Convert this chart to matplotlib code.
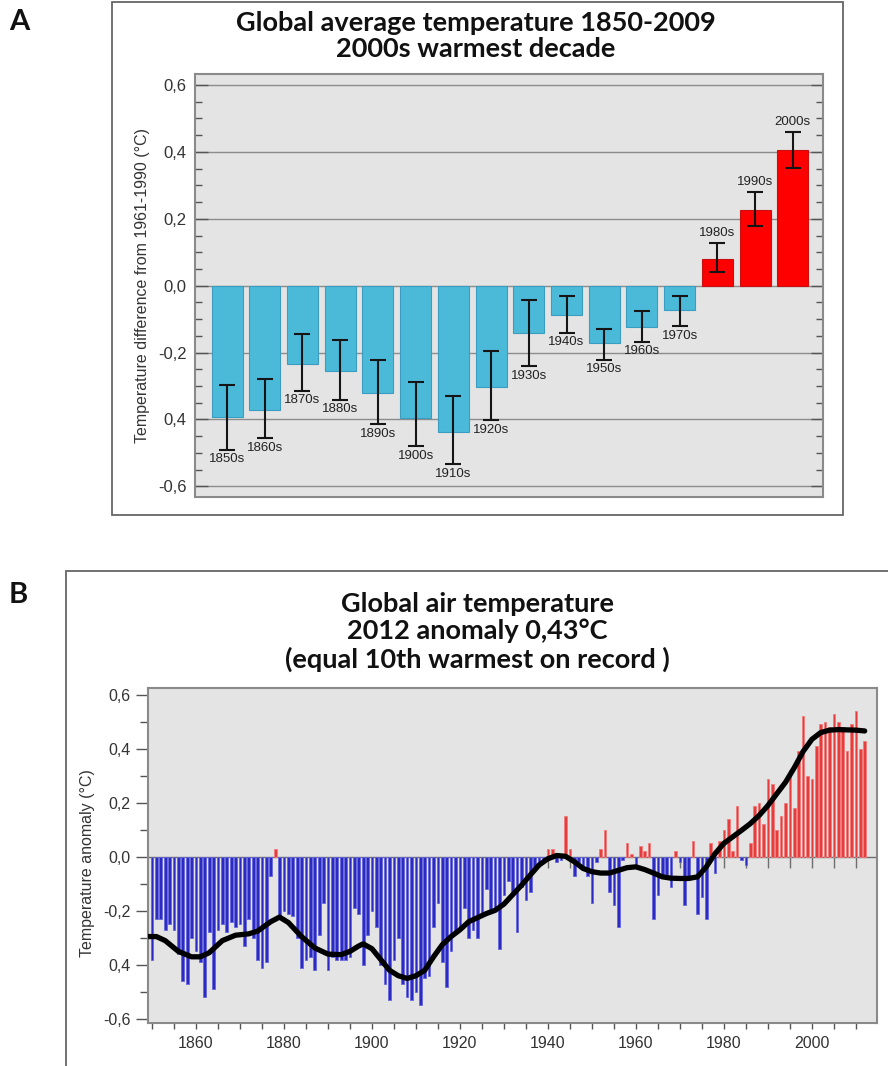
import matplotlib.pyplot as plt
import numpy as np
from matplotlib.patches import Rectangle
from matplotlib.ticker import MultipleLocator

plt.rcParams['font.family'] = ['Liberation Sans', 'DejaVu Sans']

# ---- panel A: decadal means with uncertainty range ----
decades = ["1850s", "1860s", "1870s", "1880s", "1890s", "1900s", "1910s", "1920s",
           "1930s", "1940s", "1950s", "1960s", "1970s", "1980s", "1990s", "2000s"]
decade_means = [-0.392, -0.372, -0.233, -0.254, -0.322, -0.395, -0.437, -0.302,
                -0.143, -0.087, -0.171, -0.123, -0.074, 0.080, 0.227, 0.406]
err_low = [-0.490, -0.457, -0.315, -0.342, -0.415, -0.480, -0.534, -0.402,
           -0.241, -0.141, -0.221, -0.168, -0.121, 0.040, 0.177, 0.351]
err_high = [-0.296, -0.278, -0.146, -0.163, -0.221, -0.289, -0.330, -0.196,
            -0.044, -0.030, -0.131, -0.077, -0.032, 0.129, 0.281, 0.461]

# ---- panel B: annual anomalies 1850-2012 ----
years = np.arange(1850, 2013)
anomaly = [
    -0.38, -0.23, -0.23, -0.27, -0.25, -0.27, -0.36, -0.46, -0.47, -0.30,  # 1850s
    -0.35, -0.39, -0.52, -0.28, -0.49, -0.27, -0.25, -0.28, -0.24, -0.26,  # 1860s
    -0.25, -0.33, -0.23, -0.30, -0.38, -0.41, -0.39, -0.07, 0.03, -0.22,   # 1870s
    -0.20, -0.21, -0.22, -0.30, -0.41, -0.38, -0.37, -0.42, -0.29, -0.17,  # 1880s
    -0.42, -0.37, -0.38, -0.38, -0.38, -0.37, -0.19, -0.21, -0.40, -0.29,  # 1890s
    -0.20, -0.26, -0.40, -0.47, -0.53, -0.38, -0.30, -0.47, -0.52, -0.53,  # 1900s
    -0.50, -0.55, -0.45, -0.44, -0.26, -0.17, -0.39, -0.48, -0.35, -0.28,  # 1910s
    -0.27, -0.19, -0.30, -0.27, -0.30, -0.21, -0.12, -0.20, -0.20, -0.34,  # 1920s
    -0.14, -0.09, -0.13, -0.28, -0.11, -0.16, -0.13, -0.04, -0.02, -0.01,  # 1930s
    0.03, 0.03, -0.02, -0.01, 0.15, 0.03, -0.07, -0.02, -0.04, -0.07,      # 1940s
    -0.17, -0.02, 0.03, 0.10, -0.13, -0.18, -0.26, -0.01, 0.05, 0.01,      # 1950s
    -0.04, 0.04, 0.02, 0.05, -0.23, -0.14, -0.07, -0.07, -0.11, 0.02,      # 1960s
    -0.02, -0.18, -0.07, 0.06, -0.21, -0.15, -0.23, 0.05, -0.06, 0.06,     # 1970s
    0.10, 0.14, 0.02, 0.19, -0.01, -0.03, 0.05, 0.19, 0.20, 0.12,          # 1980s
    0.29, 0.27, 0.10, 0.15, 0.20, 0.32, 0.18, 0.39, 0.52, 0.30,            # 1990s
    0.29, 0.41, 0.49, 0.50, 0.48, 0.53, 0.50, 0.48, 0.39, 0.49,            # 2000s
    0.54, 0.40, 0.43,                                                      # 2010-2012
]

# smoothed curve
smooth_years = [1849.2, 1851, 1853, 1856, 1859, 1861, 1863, 1866, 1869, 1872, 1874,
                1877, 1879, 1881, 1884, 1887, 1890, 1893, 1895, 1897, 1898, 1900,
                1902, 1904, 1906, 1908, 1910, 1912, 1914, 1916, 1918, 1920, 1922,
                1924, 1926, 1928, 1930, 1932, 1934, 1936, 1938, 1940, 1942, 1944,
                1946, 1948, 1950, 1952, 1954, 1956, 1958, 1960, 1962, 1964, 1966,
                1968, 1970, 1972, 1974, 1976, 1978, 1980, 1982, 1984, 1986, 1988,
                1990, 1992, 1994, 1996, 1998, 2000, 2002, 2004, 2006, 2008, 2010, 2012]
smooth_vals = [-0.295, -0.295, -0.31, -0.35, -0.37, -0.37, -0.355, -0.31, -0.29, -0.285,
               -0.275, -0.24, -0.223, -0.243, -0.295, -0.337, -0.36, -0.362, -0.35,
               -0.33, -0.322, -0.34, -0.38, -0.42, -0.44, -0.45, -0.44, -0.42, -0.37,
               -0.325, -0.295, -0.27, -0.24, -0.225, -0.21, -0.198, -0.175, -0.14,
               -0.105, -0.067, -0.03, -0.007, 0.005, 0.002, -0.018, -0.043, -0.055,
               -0.06, -0.06, -0.05, -0.04, -0.037, -0.047, -0.06, -0.074, -0.079,
               -0.08, -0.08, -0.074, -0.037, 0.012, 0.05, 0.074, 0.098, 0.123, 0.153,
               0.19, 0.233, 0.276, 0.33, 0.39, 0.435, 0.46, 0.469, 0.471, 0.47,
               0.469, 0.466]

ytick_vals = [-0.6, -0.4, -0.2, 0.0, 0.2, 0.4, 0.6]
ytick_text = ["-0,6", "0,4", "-0,2", "0,0", "0,2", "0,4", "0,6"]

W, H = 888, 1066
fig = plt.figure(figsize=(W / 100, H / 100), dpi=100)


def fx(px):
    return px / W


def fy(py):
    return 1 - py / H


title_font = dict(family=['Lato', 'DejaVu Sans'], weight='bold', fontsize=19.5,
                  color='#111111', ha='center', va='center')
panel_font = dict(family=['Lato', 'DejaVu Sans'], weight='bold', fontsize=21,
                  color='#111111', ha='center', va='center')

# outer frames
fig.add_artist(Rectangle((fx(112), fy(515)), fx(843 - 112), (515 - 2) / H,
                         transform=fig.transFigure, fill=False, ec='#666666', lw=1.3))
fig.add_artist(Rectangle((fx(66), fy(1080)), fx(900 - 66), (1080 - 571) / H,
                         transform=fig.transFigure, fill=False, ec='#666666', lw=1.3))

fig.text(fx(19), fy(22), "A", **panel_font)
fig.text(fx(18), fy(595), "B", **panel_font)

fig.text(fx(476), fy(23), "Global average temperature 1850-2009", **title_font)
fig.text(fx(476), fy(49), "2000s warmest decade", **title_font)
fig.text(fx(477), fy(604), "Global air temperature", **title_font)
fig.text(fx(477), fy(631), "2012 anomaly 0,43°C", **title_font)
fig.text(fx(477), fy(659), "(equal 10th warmest on record )", **title_font)

# ---------------- panel A ----------------
axA = fig.add_axes([fx(195), fy(497), fx(823 - 195), (497 - 74) / H])
axA.set_facecolor('#e4e4e4')
x = np.arange(len(decades))
means = np.array(decade_means)
colA = ['#ff0000' if v > 0 else '#4bbad9' for v in means]
edgeA = ['#c81010' if v > 0 else '#3a9cc0' for v in means]
axA.bar(x, means, width=0.82, color=colA, edgecolor=edgeA, lw=0.8, zorder=2)
yerr = [means - np.array(err_low), np.array(err_high) - means]
axA.errorbar(x, means, yerr=yerr, fmt='none', ecolor='#151515', elinewidth=1.5,
             capsize=5.5, capthick=1.5, zorder=3)
for i, lab in enumerate(decades):
    if means[i] < 0:
        axA.annotate(lab, (i, err_low[i]), xytext=(0, -2.5), textcoords='offset points',
                     ha='center', va='top', fontsize=9.5, color='#222222')
    else:
        axA.annotate(lab, (i, err_high[i]), xytext=(0, 2.5), textcoords='offset points',
                     ha='center', va='bottom', fontsize=9.5, color='#222222')

axA.set_xlim(-0.85, 15.8)
axA.set_ylim(-0.632, 0.633)
axA.set_xticks([])
axA.set_yticks(ytick_vals)
axA.set_yticklabels(ytick_text)
axA.yaxis.set_minor_locator(MultipleLocator(0.05))
axA.yaxis.grid(True, which='major', color='#8c8c8c', lw=1)
axA.set_axisbelow(True)
axA.tick_params(axis='y', which='both', direction='in', left=True, right=True,
                colors='#555555', labelcolor='#333333', labelsize=12, pad=6)
axA.tick_params(axis='y', which='major', length=9, width=1)
axA.tick_params(axis='y', which='minor', length=5, width=1)
for s in axA.spines.values():
    s.set_color('#8a8a8a')
    s.set_linewidth(1.5)
axA.set_ylabel("Temperature difference from 1961-1990 (°C)", fontsize=11.5, color='#333333')
axA.yaxis.set_label_coords(-0.0717, 0.5)

# ---------------- panel B ----------------
axB = fig.add_axes([fx(148), fy(1023), fx(877 - 148), (1023 - 688) / H])
axB.set_facecolor('#e4e4e4')
anom = np.array(anomaly)
colB = ['#e63c3c' if v > 0 else '#2b2bc4' for v in anom]
edgeB = ['#f07a7a' if v > 0 else '#6666dc' for v in anom]
axB.axhline(0, color='#6e6e6e', lw=1, zorder=2)
axB.vlines(np.arange(1850, 2015, 5), -0.043, 0, color='#6e6e6e', lw=1, zorder=2)
axB.bar(years, anom, width=0.62, color=colB, edgecolor=edgeB, lw=0.6, zorder=3)
axB.plot(smooth_years, smooth_vals, color='#000000', lw=3.8,
         solid_capstyle='round', solid_joinstyle='round', zorder=4)

axB.set_xlim(1849.1, 2014.8)
axB.set_ylim(-0.615, 0.625)
axB.set_xticks(np.arange(1860, 2001, 20))
axB.xaxis.set_minor_locator(MultipleLocator(5))
axB.set_yticks(ytick_vals)
axB.set_yticklabels(ytick_text)
axB.yaxis.set_minor_locator(MultipleLocator(0.1))
axB.tick_params(axis='x', which='both', direction='out', length=4.5, width=1,
                colors='#555555', labelcolor='#333333', labelsize=11.5, pad=5)
axB.tick_params(axis='y', which='major', direction='out', length=8.5, width=1,
                colors='#555555', labelcolor='#333333', labelsize=11.5, pad=4)
axB.tick_params(axis='y', which='minor', direction='out', length=5.5, width=1, colors='#555555')
for s in axB.spines.values():
    s.set_color('#8a8a8a')
    s.set_linewidth(1.5)
axB.set_ylabel("Temperature anomaly (°C)", fontsize=11.5, color='#333333')
axB.yaxis.set_label_coords(-0.0727, 0.476)

fig.savefig("out.png", dpi=100, facecolor='white')
